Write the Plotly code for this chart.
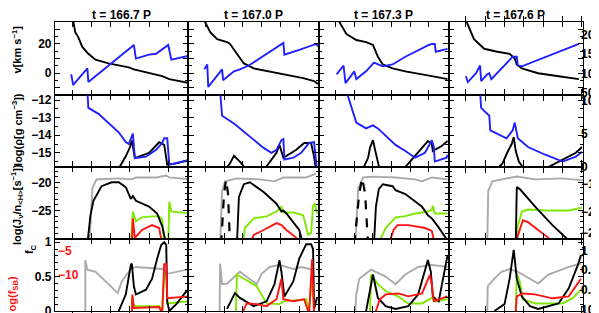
import plotly.graph_objects as go

# ---------------- titles / labels ----------------
titles = ["t = 166.7 P", "t = 167.0 P", "t = 167.3 P", "t = 167.6 P"]

# x is radius in arbitrary units (same grid in every column)
# ---------------- Row 1 : velocity [km/s] ----------------
v_black_x = [[1.7, 1.8, 2.0, 2.3, 2.7, 3.3, 4.0, 5.3, 6.3, 7.3, 7.8, 8.2, 9.3, 10.6, 11.3, 12.2, 13.3],
             [1.6, 1.7, 2.2, 2.9, 3.9, 4.2, 4.9, 5.6, 6.6, 8.2, 9.9, 11.6, 12.7, 13.1],
             [2.0, 2.1, 2.8, 3.8, 4.8, 5.5, 6.0, 6.5, 7.5, 8.8, 11.5, 13.1],
             [1.7, 1.8, 2.5, 3.5, 4.8, 6.0, 6.5, 6.7, 7.2, 8.8, 10.8, 12.8]]
v_black_y = [[40, 35.3, 28, 24.7, 18, 13.3, 9.3, 6.7, 5.3, 4, 2.7, 2, 0, -2, -4, -5.3, -6.7],
             [40, 34.7, 28, 23.3, 21.3, 20, 13.3, 6.7, 3.3, 1.3, -0.7, -3.3, -5.3, -7.3],
             [40, 34.7, 26.7, 22.7, 21.3, 19.3, 11.3, 6, 3.3, 1.3, -2, -4],
             [40, 34.7, 23.3, 16.7, 14.7, 13.3, 10, 6, 3.3, 0, -2, -4]]
v_blue_x = [[1.6, 1.8, 3.2, 3.3, 7.8, 8.0, 9.3, 10.0, 11.2, 11.5, 13.3],
            [1.6, 1.9, 2.0, 3.4, 3.5, 4.6, 5.2, 6.1, 9.6, 9.7, 11.2, 12.9, 13.2],
            [1.8, 2.5, 2.7, 3.6, 3.8, 4.8, 5.6, 6.5, 7.5, 8.8, 11.2, 11.5, 11.8, 11.9, 13.1],
            [1.7, 1.9, 2.7, 3.1, 3.2, 3.8, 4.0, 4.2, 6.3, 6.7, 6.8, 7.2, 12.8]]
v_blue_y = [[-0.7, -8, 3.3, -6, 19.3, 10, 12.7, 13.3, 19.3, 9.3, 12],
            [2.7, 6, -9.3, 2.7, -4.7, 1.3, 2.7, 5.3, 20.7, 12.7, 16, 20, 18],
            [-0.7, 5.3, -6.7, 1.3, -4, 1.3, 7.3, 4.7, 6, 11.3, 19.3, 20, 20, 14.7, 16.7],
            [-2, -6, 0, 5.3, -5.3, -0.7, 0, -4, 11.3, 11.3, 5.3, 4.7, 20]]

# ---------------- Row 2 : log density ----------------
rho_black_x = [[6.2, 7.0, 7.4, 7.6, 7.9, 9.3, 10.3, 10.8, 11.1, 12.0, 13.3],
               [3.7, 4.2, 4.6, 5.2, 5.9, 7.6, 8.9, 9.2, 9.6, 10.9, 11.7, 12.4, 12.7, 12.9],
               [4.4, 5.0, 5.2, 5.5, 5.7, 6.2, 8.5, 9.8, 11.1, 11.5, 11.6, 12.5, 13.1],
               [4.6, 5.3, 5.8, 6.2, 6.4, 6.6, 6.9, 7.4, 9.5, 11.2, 12.5, 13.1]]
rho_black_y = [[-16, -15.2, -14.7, -14.3, -15.3, -15.0, -14.4, -14.55, -15.67, -15.6, -15.4],
               [-16, -15.6, -15.17, -15.5, -16, -16, -15.0, -14.55, -15.28, -14.83, -14.44, -14.44, -15.22, -16],
               [-16, -15.3, -14.7, -14.28, -14.8, -16, -16, -15.17, -14.33, -14.5, -14.9, -14.61, -14.33],
               [-16, -15.6, -14.94, -14.5, -14.11, -14.9, -15.5, -15.9, -15.9, -15.39, -15.0, -14.67]]
rho_blue_x = [[3.2, 3.3, 4.3, 5.3, 6.3, 7.0, 7.3, 7.7, 7.9, 9.0, 10.0, 10.6, 10.8, 11.1, 11.3, 13.3],
              [3.2, 3.4, 4.6, 6.2, 7.6, 8.4, 8.9, 9.4, 9.6, 9.7, 10.6, 11.4, 12.2, 12.7, 13.0],
              [2.8, 3.8, 4.8, 5.5, 6.0, 7.8, 8.8, 9.8, 10.8, 11.3, 11.5, 11.7, 11.8, 13.0, 13.1],
              [3.1, 3.2, 4.0, 4.1, 5.7, 6.3, 6.5, 6.8, 7.8, 9.5, 11.2, 12.5, 13.1]]
rho_blue_y = [[-11.5, -12.44, -12.78, -13.28, -13.83, -14.39, -14.5, -13.9, -15.3, -15.22, -14.83, -14.44, -14.17, -14.17, -15.67, -15.4],
              [-11.5, -12.89, -13.33, -14.1, -14.72, -15.0, -14.83, -14.28, -14.22, -15.39, -15.28, -15.0, -14.44, -14.39, -16],
              [-11.5, -13.28, -13.61, -13.44, -13.61, -14.55, -14.9, -15.28, -15.0, -14.44, -14.28, -14.67, -15.5, -15.28, -15.11],
              [-11.5, -12.44, -12.89, -13.72, -14.17, -13.72, -13.28, -14.17, -14.67, -15.11, -15.5, -15.22, -14.94]]

# ---------------- Row 3 : log(J / n_H) ----------------
j_gray_x = [[3.4, 3.7, 4.1, 6.3, 7.6, 8.0, 10.0, 11.0, 11.3, 13.3],
            [3.2, 3.4, 3.7, 4.9, 7.2, 8.7, 9.6, 11.9, 12.9],
            [3.7, 4.0, 4.5, 5.5, 7.8, 9.8, 10.5, 11.5, 13.1],
            [3.8, 3.9, 4.3, 5.2, 6.7, 8.5, 11.2, 13.2]]
j_gray_y = [[-31, -21, -19.5, -19.31, -19.48, -19.14, -19.14, -18.8, -19.14, -19.48],
            [-31, -21.55, -19.83, -19.31, -19.48, -19.83, -19.14, -19.14, -18.45],
            [-31, -21, -19.14, -19, -19.14, -19.48, -19.83, -19.14, -19.48],
            [-31, -21.55, -19.83, -19.48, -18.97, -19.48, -19.31, -19.66]]
j_black_x = [[3.2, 3.5, 3.8, 4.6, 5.6, 6.3, 7.0, 7.3, 7.5, 7.7, 8.0, 9.3, 10.1, 10.6, 11.0],
             [4.9, 5.1, 5.6, 6.2, 7.6, 8.9, 9.4, 9.6, 9.9, 11.2, 11.6],
             [5.6, 5.8, 6.1, 6.5, 7.5, 7.8, 8.8, 9.8, 10.5, 11.1, 11.5, 12.1, 13.1],
             [6.6, 6.7, 7.0, 8.5, 10.2, 11.8]]
j_black_y = [[-31, -25.9, -23.28, -20.69, -20, -20, -20.86, -22.07, -22.93, -22.41, -23.28, -24.31, -25.52, -27.76, -31],
             [-31, -22.59, -20.34, -20, -21.72, -23.79, -25.17, -25, -25.52, -28.45, -31],
             [-31, -24.31, -21.2, -20.34, -20.69, -21.4, -22.07, -23.45, -24.31, -25.86, -26.38, -27.76, -30.3],
             [-31, -20.86, -21.2, -24.31, -27.59, -30.3]]
j_dash_x = [[], [3.3, 3.6, 3.8, 4.0, 4.2], [3.6, 4.1, 4.4, 4.7, 5.0], []]
j_dash_y = [[], [-31, -22, -19.5, -22, -31], [-31, -22, -19.2, -22, -31], []]
j_green_x = [[7.5, 7.7, 8.0, 8.6, 9.6, 10.3, 10.6, 10.8, 11.2, 11.3, 11.5, 13.3],
             [5.5, 5.7, 6.6, 7.9, 8.9, 9.4, 9.6, 10.6, 11.6, 12.1, 12.4, 12.6, 12.8, 13.0],
             [6.0, 6.8, 7.8, 8.8, 9.8, 11.1, 11.5, 11.6, 11.8, 13.1],
             [6.6, 6.8, 7.2, 7.8, 9.5, 11.8, 13.1]]
j_green_y = [[-31, -25.17, -26.9, -26.2, -26.03, -26.03, -26.55, -31, -31, -23.45, -25.17, -25.52],
             [-31, -28.1, -26.38, -26.03, -25.17, -24.31, -25.34, -25.34, -25.86, -29.31, -28.97, -24.14, -23.79, -25.52],
             [-31, -28.1, -26.2, -26.0, -25.52, -25.17, -24.83, -24.14, -25.52, -25.52],
             [-31, -27.76, -25.17, -24.83, -25.0, -25.0, -24.48]]
j_red_x = [[7.6, 7.7, 7.9, 8.6, 9.6, 10.3, 10.6],
           [6.2, 6.6, 7.6, 8.9, 9.4, 9.9, 10.9, 11.2],
           [7.1, 7.6, 8.0, 9.1, 10.8, 11.5, 11.8],
           [6.6, 6.8, 7.3, 7.8, 8.8, 9.8, 10.2]]
j_red_y = [[-31, -26.38, -29.83, -28.45, -27.59, -28.1, -31],
           [-31, -29.31, -28.45, -27.24, -27.59, -28.45, -29.83, -31],
           [-31, -28.45, -27.59, -27.59, -28.1, -28.62, -31],
           [-31, -29.48, -26.72, -27.07, -28.45, -29.83, -31]]

# ---------------- Row 4 : f_C (black, gray, green) and log f_SB (red) ----------------
f_gray_x = [[3.0, 3.0, 3.2, 4.0, 5.3, 6.2, 6.6, 7.5, 8.0, 9.3, 10.6, 11.1, 12.0, 13.3],
            [3.15, 3.2, 3.4, 3.9, 5.2, 6.2, 6.9, 7.4, 8.2, 9.2, 10.6, 11.4, 12.6],
            [3.7, 3.8, 4.1, 5.3, 6.8, 7.8, 8.8, 10.1, 11.5, 13.1],
            [3.8, 3.85, 4.5, 5.2, 6.0, 6.8, 8.8, 9.8, 11.8, 13.0]]
f_gray_y = [[0, 0.74, 0.6, 0.57, 0.39, 0.26, 0.43, 0.61, 0.64, 0.63, 0.61, 0.54, 0.57, 0.61],
            [0, 0.69, 0.39, 0.4, 0.57, 0.47, 0.39, 0.54, 0.64, 0.67, 0.61, 0.64, 0.6],
            [0, 0.24, 0.47, 0.6, 0.5, 0.39, 0.53, 0.64, 0.67, 0.64],
            [0, 0.36, 0.47, 0.57, 0.61, 0.57, 0.4, 0.53, 0.64, 0.69]]
f_black_x = [[6.3, 7.0, 7.5, 7.6, 7.8, 8.0, 9.0, 9.6, 10.1, 10.5, 10.8, 11.0, 11.1, 11.3, 12.0, 13.0, 13.3],
             [3.9, 4.7, 5.2, 6.6, 7.9, 8.7, 9.2, 9.4, 9.7, 10.6, 11.2, 11.9, 12.4, 12.6, 12.7, 13.0],
             [4.8, 5.5, 6.0, 6.8, 7.8, 9.1, 10.1, 10.8, 11.1, 11.4, 11.6, 12.2, 12.8, 13.1],
             [4.5, 5.5, 6.0, 6.4, 6.7, 7.2, 8.0, 8.8, 10.8, 11.8, 12.7, 13.0]]
f_black_y = [[0, 0.24, 0.67, 0.69, 0.36, 0.24, 0.31, 0.47, 0.76, 0.96, 1.0, 0.96, 0.14, 0, 0.1, 0.29, 0.26],
             [0.03, 0.26, 0.19, 0.07, 0.14, 0.39, 0.74, 0.57, 0.21, 0.43, 0.76, 0.97, 0.97, 0.9, 0.03, 0.2],
             [0, 0.53, 0.19, 0.07, 0.03, 0.07, 0.24, 0.57, 0.74, 0.57, 0.21, 0.14, 0.61, 0.81],
             [0, 0.1, 0.47, 0.89, 0.47, 0.21, 0.07, 0.03, 0.11, 0.33, 0.67, 0.81]]
f_green_x = [[7.6, 7.6, 7.8, 10.3, 10.6, 10.8, 11.0, 11.1, 13.3],
             [4.8, 4.9, 6.9, 7.9, 9.2, 9.6, 11.9, 12.2, 12.5, 12.7],
             [5.2, 5.3, 6.0, 6.8, 8.1, 9.1, 10.5, 11.5, 11.8, 13.1],
             [6.6, 6.7, 7.0, 7.3, 8.5, 11.2, 12.2, 13.0]]
f_green_y = [[0, 0.21, 0.07, 0.07, 0.02, 0.53, 0.53, 0.11, 0.14],
             [0, 0.53, 0.36, 0.11, 0.1, 0.14, 0.17, 0, 0.53, 0],
             [0, 0.53, 0.39, 0.29, 0.21, 0.11, 0.11, 0.19, 0.14, 0.17],
             [0, 0.54, 0.43, 0.17, 0.11, 0.11, 0.19, 0.31]]
sb_red_x = [[7.6, 7.65, 7.8, 10.3, 10.6, 10.8, 11.0, 11.1, 13.3],
            [5.4, 5.9, 6.9, 7.9, 8.9, 9.4, 9.6, 10.6, 11.7, 12.2, 12.5, 12.7],
            [5.7, 6.2, 6.8, 8.1, 9.1, 10.5, 11.3, 11.5, 11.7, 13.1],
            [6.6, 6.6, 6.7, 7.3, 8.5, 10.2, 11.8, 13.0]]
sb_red_y = [[-18, -14, -16.8, -16.6, -18, -7.8, -7.8, -14.8, -14.4],
            [-18, -15.8, -16, -16.4, -15, -10.8, -15, -15.4, -15, -18, -6.8, -18],
            [-18, -15, -14, -13.8, -14.4, -13.8, -10, -12, -15.4, -14.4],
            [-18, -17.4, -14.4, -13.8, -14, -14.8, -14.4, -10.8]]

# ---------------- styling / layout ----------------
BLUE, BLACK, GRAY, GREEN, RED = "#2020ff", "#000000", "#aaaaaa", "#80e800", "#ff1414"
FONT = "Liberation Sans"
x_dom = [(0.0, 0.2528), (0.2528, 0.5), (0.5, 0.7453), (0.7453, 1.0)]
y_dom = [(0.7466, 1.0), (0.5, 0.7466), (0.25, 0.5), (0.0, 0.25)]
row_range = [[-15, 35], [-15.78, -11.72], [-30, -17.2], [0, 1.05]]
row_tickvals = [[-10, 0, 10, 20, 30], [-15, -14, -13, -12], [-30, -25, -20], [0, 0.5, 1]]
row_ticktext = [["", "0", "", "20", ""], ["−15", "−14", "−13", "−12"], ["", "−25", "−20"], ["0", "0.5", "1"]]
row_minor = [[-15, -5, 5, 15, 25, 35],
             [-15.5, -14.5, -13.5, -12.5],
             [-29, -28, -27, -26, -24, -23, -22, -21, -19, -18],
             [0.1, 0.2, 0.3, 0.4, 0.6, 0.7, 0.8, 0.9]]

fig = go.Figure()


def ax(kind, p):
    return kind if p == 1 else f"{kind}{p}"


def add(r, c, xs, ys, color, width=1.9, dash=None, yid=None):
    if not xs:
        return
    p = r * 4 + c + 1
    fig.add_trace(go.Scatter(x=xs, y=ys, mode="lines",
                             line=dict(color=color, width=width, dash=dash),
                             xaxis=ax("x", p), yaxis=yid or ax("y", p),
                             showlegend=False, hoverinfo="skip"))


for c in range(4):
    add(0, c, v_black_x[c], v_black_y[c], BLACK)
    add(0, c, v_blue_x[c], v_blue_y[c], BLUE)
    add(1, c, rho_black_x[c], rho_black_y[c], BLACK)
    add(1, c, rho_blue_x[c], rho_blue_y[c], BLUE)
    add(2, c, j_gray_x[c], j_gray_y[c], GRAY)
    add(2, c, j_green_x[c], j_green_y[c], GREEN)
    add(2, c, j_red_x[c], j_red_y[c], RED)
    add(2, c, j_black_x[c], j_black_y[c], BLACK)
    add(2, c, j_dash_x[c], j_dash_y[c], BLACK, width=2.2, dash="dash")
    add(3, c, f_gray_x[c], f_gray_y[c], GRAY)
    add(3, c, f_green_x[c], f_green_y[c], GREEN)
    add(3, c, sb_red_x[c], sb_red_y[c], RED, yid=f"y{17 + c}")
    add(3, c, f_black_x[c], f_black_y[c], BLACK)

# empty carriers so that the right-hand label axes of the last column are drawn
for r in range(4):
    fig.add_trace(go.Scatter(x=[None], y=[None], mode="lines", xaxis=f"x{r * 4 + 4}",
                             yaxis=f"y{21 + r}", showlegend=False, hoverinfo="skip"))

layout = dict(width=599, height=313, margin=dict(l=47, r=24, t=14, b=3),
              paper_bgcolor="white", plot_bgcolor="white", showlegend=False,
              font=dict(family=FONT, size=11, color="black"))
tickfont = dict(family=FONT, size=12, color="black", weight="bold")

for r in range(4):
    for c in range(4):
        p = r * 4 + c + 1
        layout["xaxis" if p == 1 else f"xaxis{p}"] = dict(
            domain=x_dom[c], anchor=ax("y", p), range=[0, 13.2],
            showline=True, linecolor="black", linewidth=1.2, mirror="allticks",
            ticks="inside", ticklen=5, tickwidth=1, tickcolor="black",
            tick0=1.7, dtick=1.9, showticklabels=False,
            showgrid=False, zeroline=False, fixedrange=True)
        layout["yaxis" if p == 1 else f"yaxis{p}"] = dict(
            domain=y_dom[r], anchor=ax("x", p), range=row_range[r],
            showline=True, linecolor="black", linewidth=1.2, mirror="allticks",
            ticks="inside", ticklen=5, tickwidth=1, tickcolor="black",
            tickmode="array", tickvals=row_tickvals[r], ticktext=row_ticktext[r],
            showticklabels=(c == 0), tickfont=tickfont,
            minor=dict(tickmode="array", tickvals=row_minor[r], ticks="inside",
                       ticklen=3, tickwidth=1, tickcolor="black"),
            showgrid=False, zeroline=False, fixedrange=True)

# secondary log(f_SB) axes in the bottom row (red)
for c in range(4):
    p = 12 + c + 1
    layout[f"yaxis{17 + c}"] = dict(
        overlaying=f"y{p}", anchor=f"x{p}", side="left", range=[-17.4, -2.6],
        tickmode="array", tickvals=[-10, -5], ticktext=["−10", "−5"],
        showticklabels=(c == 0), ticklabelposition="inside", ticks="",
        tickfont=dict(family=FONT, size=12, color=RED, weight="bold"),
        showline=False, showgrid=False, zeroline=False, fixedrange=True)

# right-hand labels of the last column
right_labels = [([5, 10, 15, 20], ["50", "10", "15", "20"], [4.5, 23.25]),
                ([0, 5, 10], ["0", "5", "10"], [0, 10.9]),
                ([0.081, 0.378, 0.757], ["−2", "−2", "−1"], [0, 1]),
                ([0.0135, 0.297, 0.568, 0.838], ["10", "0.0", "0.1", "1"], [0, 1])]
for r, (tv, tt, rg) in enumerate(right_labels):
    p = r * 4 + 4
    layout[f"yaxis{21 + r}"] = dict(
        overlaying=f"y{p}", anchor=f"x{p}", side="right", range=rg,
        tickmode="array", tickvals=tv, ticktext=tt, ticks="", ticklabelstandoff=-3,
        tickfont=tickfont, showline=False, showgrid=False, zeroline=False,
        fixedrange=True)

annotations = []
for c in range(4):
    annotations.append(dict(text=f"<b>{titles[c]}</b>", xref="paper", yref="paper",
                            x=(x_dom[c][0] + x_dom[c][1]) / 2, y=1.024,
                            xanchor="center", yanchor="middle", showarrow=False,
                            font=dict(family=FONT, size=12, color="black")))

ylabels = [("<b>v[km s<sup>−1</sup>]</b>", 0.905, "black", -0.072),
           ("<b>log(ρ[g cm<sup>−3</sup>])</b>", 0.63, "black", -0.072),
           ("<b>log(J<sub>ν</sub>/n<sub><H></sub>[s<sup>−1</sup>])</b>", 0.37, "black", -0.072),
           ("<b>f<sub>C</sub></b>", 0.215, "black", -0.047),
           ("<b>og(f<sub>SB</sub>)</b>", 0.06, RED, -0.08)]
for txt, yy, col, xx in ylabels:
    annotations.append(dict(text=txt, xref="paper", yref="paper", x=xx, y=yy,
                            xanchor="center", yanchor="middle", textangle=-90,
                            showarrow=False, font=dict(family=FONT, size=11, color=col)))
layout["annotations"] = annotations

fig.update_layout(**layout)
fig.write_html("out.html")
